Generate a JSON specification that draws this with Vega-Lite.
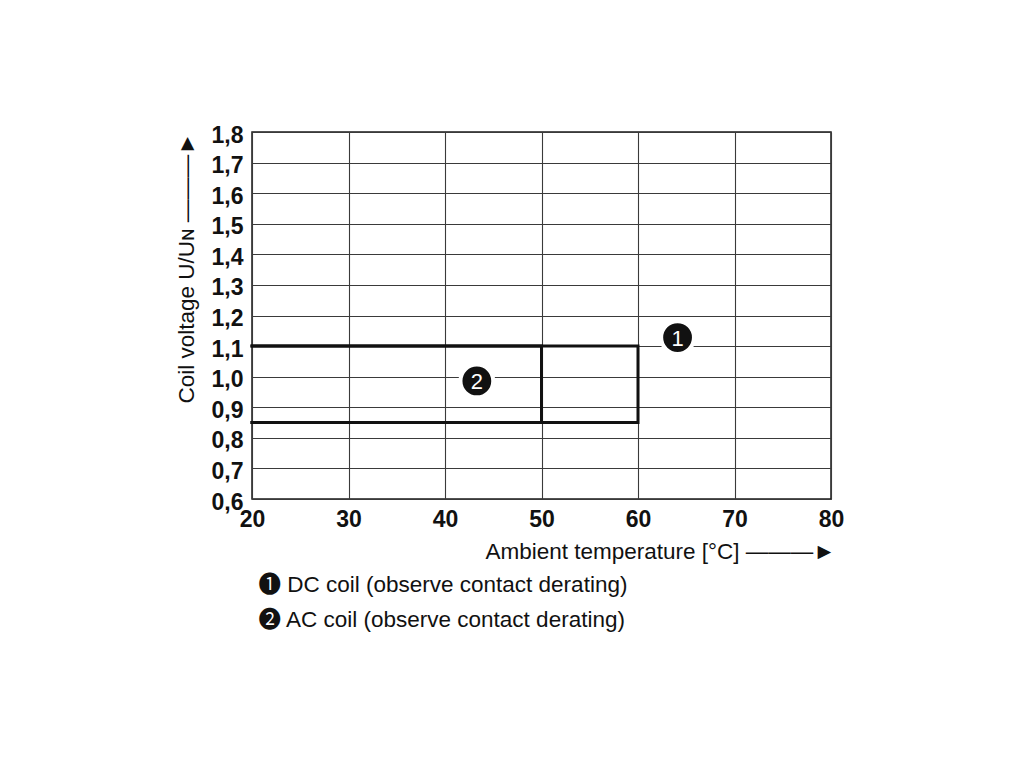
{
  "$schema": "https://vega.github.io/schema/vega-lite/v6.json",
  "autosize": {"type": "none"},
  "width": 579,
  "height": 367,
  "padding": {"left": 252, "top": 132, "right": 189, "bottom": 266},
  "background": "white",
  "config": {
    "font": "Liberation Sans",
    "view": {"stroke": "#1a1a1a", "strokeWidth": 1.5},
    "axis": {"gridColor": "#3a3a3a", "gridWidth": 1.1, "gridOpacity": 1, "domain": false, "ticks": false}
  },
  "datasets": {
    "ranges": [
      {"series": "DC coil (observe contact derating)", "t": 20, "u": 1.1, "i": 0},
      {"series": "DC coil (observe contact derating)", "t": 60, "u": 1.1, "i": 1},
      {"series": "DC coil (observe contact derating)", "t": 60, "u": 0.85, "i": 2},
      {"series": "DC coil (observe contact derating)", "t": 20, "u": 0.85, "i": 3},
      {"series": "AC coil (observe contact derating)", "t": 20, "u": 1.1, "i": 0},
      {"series": "AC coil (observe contact derating)", "t": 50, "u": 1.1, "i": 1},
      {"series": "AC coil (observe contact derating)", "t": 50, "u": 0.85, "i": 2},
      {"series": "AC coil (observe contact derating)", "t": 20, "u": 0.85, "i": 3}
    ],
    "callouts": [
      {"t": 64.1, "u": 1.128, "n": "1"},
      {"t": 43.3, "u": 0.986, "n": "2"}
    ]
  },
  "layer": [
    {
      "data": {"name": "ranges"},
      "mark": {"type": "line", "strokeWidth": 3, "strokeJoin": "miter", "strokeCap": "square"},
      "encoding": {
        "x": {
          "field": "t", "type": "quantitative",
          "scale": {"domain": [20, 80], "nice": false},
          "axis": {
            "values": [20, 30, 40, 50, 60, 70, 80], "tickCount": 20,
            "labelFont": "Liberation Sans", "labelFontWeight": "bold", "labelFontSize": 23,
            "labelColor": "#111", "labelPadding": 9, "labelFlush": false, "labelOverlap": false, "labelBound": false,
            "title": "Ambient temperature [°C] ———►",
            "titleFont": "Liberation Sans", "titleFontWeight": "normal", "titleFontSize": 22.5,
            "titleColor": "#111", "titleAnchor": "end", "titlePadding": 9, "titleX": 583
          }
        },
        "y": {
          "field": "u", "type": "quantitative",
          "scale": {"domain": [0.6, 1.8], "nice": false, "zero": false},
          "axis": {
            "values": [0.6, 0.7, 0.8, 0.9, 1.0, 1.1, 1.2, 1.3, 1.4, 1.5, 1.6, 1.7, 1.8], "tickCount": 20,
            "labelExpr": "replace(format(datum.value, '.1f'), '.', ',')",
            "labelFont": "Liberation Sans", "labelFontWeight": "bold", "labelFontSize": 23,
            "labelColor": "#111", "labelPadding": 9, "labelFlush": false, "labelOverlap": false, "labelBound": false,
            "labelBaseline": "middle", "labelOffset": 3,
            "title": "Coil voltage U/Uɴ ———►",
            "titleFont": "Liberation Sans", "titleFontWeight": "normal", "titleFontSize": 22.5,
            "titleColor": "#111", "titleAnchor": "end", "titlePadding": 13
          }
        },
        "detail": {"field": "series"},
        "order": {"field": "i"},
        "color": {
          "field": "series", "type": "nominal",
          "scale": {
            "domain": ["DC coil (observe contact derating)", "AC coil (observe contact derating)"],
            "range": ["#111111", "#111111"]
          },
          "legend": {
            "orient": "none", "legendX": -16, "legendY": 442,
            "title": null, "direction": "vertical",
            "symbolSize": 0, "symbolStrokeWidth": 0, "symbolOpacity": 0,
            "labelFont": "Liberation Sans, 'Noto Sans CJK JP'", "labelFontSize": 22.5, "labelColor": "#111",
            "labelLimit": 700, "labelOffset": 0, "rowPadding": 12,
            "labelExpr": "(datum.label == 'DC coil (observe contact derating)' ? '❶ ' : '❷ ') + datum.label"
          }
        }
      }
    },
    {
      "data": {"name": "callouts"},
      "mark": {"type": "point", "shape": "circle", "filled": true, "size": 1075, "color": "#111111", "stroke": "white", "strokeWidth": 4, "opacity": 1},
      "encoding": {
        "x": {"field": "t", "type": "quantitative"},
        "y": {"field": "u", "type": "quantitative"}
      }
    },
    {
      "data": {"name": "callouts"},
      "mark": {"type": "text", "color": "white", "font": "Liberation Sans", "fontSize": 22, "align": "center", "baseline": "middle", "dy": 1},
      "encoding": {
        "x": {"field": "t", "type": "quantitative"},
        "y": {"field": "u", "type": "quantitative"},
        "text": {"field": "n"}
      }
    }
  ]
}
